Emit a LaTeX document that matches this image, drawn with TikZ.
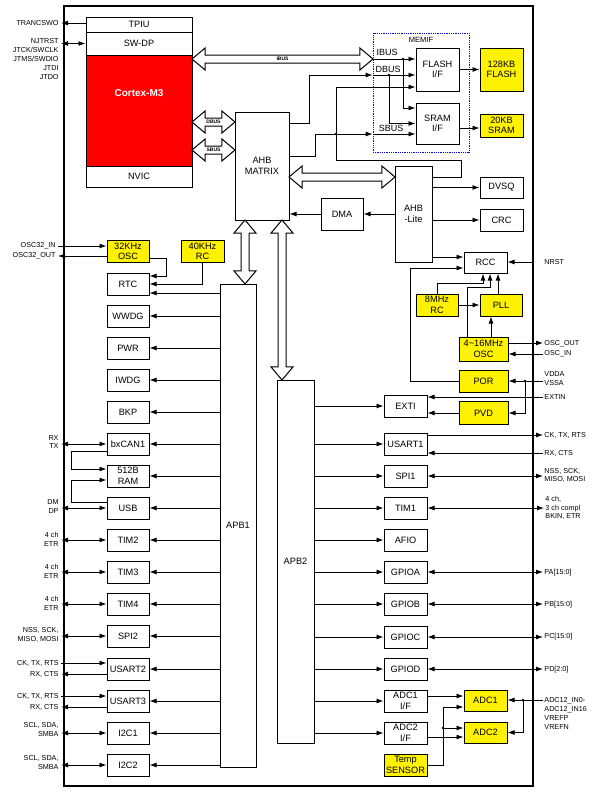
\documentclass[tikz,border=0pt]{standalone}
\usepackage{fontspec}
\setmainfont{Liberation Sans}
\usetikzlibrary{shapes,arrows.meta,positioning,calc}

\begin{document}
\begin{tikzpicture}[x=1pt, y=-1pt, line width=0.9pt, >={Latex[length=7pt,width=5pt]}]
    \tikzstyle{block} = [rectangle, draw, line width=1pt, minimum width=42pt, minimum height=22pt, inner sep=0pt, align=center, font=\fontsize{9.2}{10.5}\selectfont]
    \tikzstyle{hot} = [block, fill=yellow]
    \tikzstyle{pinl} = [anchor=east, align=right, inner xsep=2pt, inner ysep=0pt, font=\fontsize{7.2}{8.8}\selectfont]
    \tikzstyle{pinr} = [anchor=west, align=left, inner xsep=1pt, inner ysep=0pt, font=\fontsize{7.2}{8.8}\selectfont]
    \tikzstyle{link} = [->]
    \tikzstyle{bus} = [double arrow, draw, fill=white, line width=1pt, inner xsep=0pt, inner ysep=3.5pt, double arrow head extend=7pt, double arrow tip angle=80, double arrow head indent=0pt]
    \tikzstyle{buslbl} = [inner sep=0pt, font=\fontsize{5}{5}\selectfont\bfseries]

    \fill[white] (0,0) rectangle (599,795);
    \useasboundingbox (0,0) rectangle (599,795);

    % Chip outline
    \node[draw, line width=1.6pt, minimum width=469pt, minimum height=780pt, inner sep=0pt] (chip) at (298.5,396) {};

    % Cortex-M3 core
    \node[block, minimum width=106pt, minimum height=15pt] (tpiu) at (139,24.5) {TPIU};
    \node[block, minimum width=106pt, minimum height=23pt] (swdp) at (139,43.5) {SW-DP};
    \node[block, fill=red, minimum width=106pt, minimum height=111pt] (cortex) at (139,110.5) {};
    \node[text=white, font=\fontsize{10}{12}\selectfont\bfseries] (cortexlbl) at (139,93) {Cortex-M3};
    \node[block, minimum width=106pt, minimum height=21pt] (nvic) at (139,176.5) {NVIC};

    \node[pinl] (swo) at (61,23) {TRANCSWO};
    \node[pinl, anchor=north east] (jtag) at (61,38.5) {NJTRST\\JTCK/SWCLK\\JTMS/SWDIO\\JTDI\\JTDO};
    \draw[link] ([yshift=1.5pt]tpiu.west) -- ([yshift=1.5pt]tpiu.west -| swo.east);
    \draw[link, <->] (swdp.west) -- (swdp.west -| swo.east);

    % Busses from the core
    \node[bus, minimum height=181pt] (ibus) at (282.5,59) {};
    \node[buslbl] at (ibus) {IBUS};
    \node[bus, minimum height=43pt] (dbus) at (213.5,122) {};
    \node[buslbl] at (dbus) {DBUS};
    \node[bus, minimum height=43pt] (sbus) at (213.5,150) {};
    \node[buslbl] at (sbus) {SBUS};

    \node[block, minimum width=54pt, minimum height=108pt] (ahbm) at (262,166) {AHB\\MATRIX};

    % Memory interface
    \node[draw=blue, densely dotted, line width=0.8pt, minimum width=96pt, minimum height=119pt, inner sep=0pt] (memif) at (421,92.5) {};
    \node[font=\fontsize{7.5}{8}\selectfont] (memiflbl) at (421,40) {MEMIF};
    \node[block, minimum width=43pt, minimum height=43pt] (flashif) at (437.5,69.5) {FLASH\\I/F};
    \node[block, minimum width=43pt, minimum height=41pt] (sramif) at (437.5,123.5) {SRAM\\I/F};
    \node[hot, minimum width=43pt, minimum height=43pt] (flash) at (501.5,69.5) {128KB\\FLASH};
    \node[hot, minimum width=43pt, minimum height=23pt] (sram) at (501.5,125.5) {20KB\\SRAM};
    \node[font=\fontsize{9}{10}\selectfont] (ibuslbl) at (387,52) {IBUS};
    \node[font=\fontsize{9}{10}\selectfont] (dbuslbl) at (388,69) {DBUS};
    \node[font=\fontsize{9}{10}\selectfont] (sbuslbl) at (391,128) {SBUS};

    \coordinate (ij) at (403,59);
    \coordinate (dj) at (389,75);
    \coordinate (sj) at (336,134);
    \coordinate (dbusin) at (memif.west |- dj);
    \coordinate (sbusin) at (memif.west |- sj);

    \draw[link] (ibus.east) -- (ibus.east -| flashif.west);
    \draw[link] (ij) |- ([yshift=15.5pt]sramif.west);
    \draw[link] ([yshift=43pt]ahbm.east) -- ++(20,0) |- (dbusin);
    \draw[link] (dbusin) -- (flashif.west |- dj);
    \draw[link] (dj) |- (sramif.west);
    \draw[link] ([yshift=10pt]ahbm.east) -- ++(26,0) |- (sbusin);
    \draw[link] (sbusin) -- (sramif.west |- sj);
    \draw[link] (sj) |- ([yshift=-17.5pt]flashif.west);
    \fill (ij) circle (1.4pt);
    \fill (dj) circle (1.4pt);
    \fill (sj) circle (1.4pt);

    \draw[link] (flashif) -- (flash);
    \draw[link] ([yshift=-2.5pt]sram.west -| sramif.east) -- ([yshift=-2.5pt]sram.west);

    % AHB-Lite side
    \node[block, minimum width=37pt, minimum height=96pt] (ahbl) at (413.5,214) {AHB\\-Lite};
    \node[bus, minimum height=106pt] (ahbbus) at (342,177) {};
    \node[block, minimum width=42pt, minimum height=32pt] (dma) at (342,214) {DMA};
    \node[block, minimum width=43pt, minimum height=21pt] (dvsq) at (501.5,187.5) {DVSQ};
    \node[block, minimum width=43pt, minimum height=22pt] (crc) at (501.5,220) {CRC};

    \draw (sj) -- ++(0,26) -| ([xshift=29pt,yshift=37pt]ahbl.east) -- ([yshift=37pt]ahbl.east);
    \draw[link] (ahbl) -- (dma);
    \draw[link] (dma) -- (ahbm.east |- dma);
    \draw[link] (ahbl.east |- dvsq) -- (dvsq);
    \draw[link] (ahbl.east |- crc) -- (crc);

    % Clocks and reset
    \node[block, minimum width=43pt, minimum height=21pt] (rcc) at (485.5,262.5) {RCC};
    \node[hot, minimum width=42pt, minimum height=22pt] (rc8) at (437,305) {8MHz\\RC};
    \node[hot, minimum width=42pt, minimum height=22pt] (pll) at (501,305) {PLL};
    \node[hot, minimum width=49pt, minimum height=24pt] (osc) at (483.5,349) {4\textasciitilde16MHz\\OSC};
    \node[hot, minimum width=49pt, minimum height=22pt] (por) at (483.5,381) {POR};
    \node[hot, minimum width=49pt, minimum height=23pt] (pvd) at (483.5,413) {PVD};
    \node[block, minimum width=43pt, minimum height=22pt] (exti) at (405.5,406) {EXTI};

    \node[pinr] (nrst) at (543,262) {NRST};
    \node[pinr] (oscout) at (543,344) {OSC\_OUT};
    \node[pinr] (oscin) at (543,354) {OSC\_IN};
    \node[pinr] (vdda) at (543,378.5) {VDDA\\VSSA};
    \node[pinr] (extin) at (543,397) {EXTIN};
    \coordinate (vj) at (525,381);

    \draw[link] ([yshift=5.5pt]rcc.west -| ahbl.east) -- ([yshift=5.5pt]rcc.west);
    \draw[link] (nrst.west -| chip.east) -- (nrst.west -| rcc.east);
    \draw[link] (rc8.north) -- ++(0,-10) -| ([xshift=-2.5pt]rcc.south);
    \draw[link] ([xshift=-16.5pt]osc.north) -- ++(0,-49) -| ([xshift=4.5pt]rcc.south);
    \draw[link] ([xshift=-3pt]pll.north) -- ([xshift=-3pt]pll.north |- rcc.south);
    \draw[link] (rc8) -- (pll);
    \draw[link] ([xshift=7.5pt]osc.north) -- ([xshift=7.5pt]osc.north |- pll.south);
    \draw[link] ([yshift=6pt]osc.east) -- ([yshift=6pt]osc.east -| oscout.west);
    \draw[link] (oscin.west) -- (oscin.west -| osc.east);
    \draw[link] (por.west) -- ++(-48,0) |- ([yshift=-5.5pt]rcc.west);
    \draw[link] (por.east -| vdda.west) -- (por.east);
    \draw[link] (vj) |- (pvd.east);
    \fill (vj) circle (1.4pt);
    \draw[link] (extin.west) -- (extin.west -| exti.east);
    \draw[link] (pvd.west) -- (pvd.west -| exti.east);

    % Peripheral busses
    \node[block, minimum width=36pt, minimum height=483pt] (apb1) at (238,525.5) {APB1};
    \node[block, minimum width=37pt, minimum height=363pt] (apb2) at (295.5,561.5) {APB2};
    \node[bus, rotate=90, minimum height=64pt] (apb1bus) at (245,252) {};
    \node[bus, rotate=90, minimum height=160pt] (apb2bus) at (282,300) {};
    \draw[link] (apb2.east |- exti) -- (exti);

    % APB1 peripherals
    \node[hot] (osc32) at (128,251.5) {32KHz\\OSC};
    \node[hot, minimum width=43pt] (rc40) at (202.5,251.5) {40KHz\\RC};
    \node[block] (rtc) at (128,284) {RTC};
    \node[block] (wwdg) at (128,316) {WWDG};
    \node[block] (pwr) at (128,348) {PWR};
    \node[block] (iwdg) at (128,380) {IWDG};
    \node[block] (bkp) at (128,412) {BKP};
    \node[block] (bxcan) at (128,444) {bxCAN1};
    \node[block] (ram) at (128,476) {512B\\RAM};
    \node[block] (usb) at (128,508) {USB};
    \node[block] (tim2) at (128,540) {TIM2};
    \node[block] (tim3) at (128,572) {TIM3};
    \node[block] (tim4) at (128,604) {TIM4};
    \node[block] (spi2) at (128,636) {SPI2};
    \node[block] (usart2) at (128,669) {USART2};
    \node[block] (usart3) at (128,701) {USART3};
    \node[block] (i2c1) at (128,733) {I2C1};
    \node[block] (i2c2) at (128,765) {I2C2};

    \draw[link] ([yshift=-9pt]rtc.east -| apb1.west) -- ([yshift=-9pt]rtc.east);
    \draw[link] (apb1.west |- wwdg) -- (wwdg);
    \draw[link] (apb1.west |- pwr) -- (pwr);
    \draw[link] (apb1.west |- iwdg) -- (iwdg);
    \draw[link] (apb1.west |- bkp) -- (bkp);
    \draw[link] (apb1.west |- bxcan) -- (bxcan);
    \draw[link] (apb1.west |- ram) -- (ram);
    \draw[link] (apb1.west |- usb) -- (usb);
    \draw[link] (apb1.west |- tim2) -- (tim2);
    \draw[link] (apb1.west |- tim3) -- (tim3);
    \draw[link] (apb1.west |- tim4) -- (tim4);
    \draw[link] (apb1.west |- spi2) -- (spi2);
    \draw[link] (apb1.west |- usart2) -- (usart2);
    \draw[link] (apb1.west |- usart3) -- (usart3);
    \draw[link] (apb1.west |- i2c1) -- (i2c1);
    \draw[link] (apb1.west |- i2c2) -- (i2c2);

    \draw[link] ([yshift=-6.5pt]osc32.east) -- ++(17,0) |- ([yshift=8pt]rtc.east);
    \draw[link] (rc40.south) |- (rtc.east);
    \draw[link] ([yshift=-7pt]bxcan.west) -- ++(-35,0) |- ([yshift=7pt]ram.west);
    \draw[link] ([yshift=6pt]usb.west) -- ++(-35,0) |- ([yshift=-4pt]ram.west);

    % APB1 pins
    \node[pinl] (osc32in) at (58,246) {OSC32\_IN};
    \node[pinl] (osc32out) at (58,256) {OSC32\_OUT};
    \node[pinl] (canpin) at (61,442) {RX\\TX};
    \node[pinl] (usbpin) at (61,506.5) {DM\\DP};
    \node[pinl] (t2pin) at (61,539.5) {4 ch\\ETR};
    \node[pinl] (t3pin) at (61,571.5) {4 ch\\ETR};
    \node[pinl] (t4pin) at (61,603.5) {4 ch\\ETR};
    \node[pinl] (spi2pin) at (61,635) {NSS, SCK,\\MISO, MOSI};
    \node[pinl] (ck2) at (61,663) {CK, TX, RTS};
    \node[pinl] (rx2) at (61,674) {RX, CTS};
    \node[pinl] (ck3) at (61,696) {CK, TX, RTS};
    \node[pinl] (rx3) at (61,707) {RX, CTS};
    \node[pinl] (i2c1pin) at (61,729.5) {SCL, SDA,\\SMBA};
    \node[pinl] (i2c2pin) at (61,762.5) {SCL, SDA,\\SMBA};

    \draw[link] (osc32in.east) -- (osc32in.east -| osc32.west);
    \draw[link] ([yshift=-4.5pt]osc32.west) -- ([yshift=-4.5pt]osc32.west -| osc32out.east);
    \draw[link, <->] (bxcan.west) -- (bxcan.west -| canpin.east);
    \draw[link, <->] (usb.west) -- (usb.west -| usbpin.east);
    \draw[link, <->] (tim2.west) -- (tim2.west -| t2pin.east);
    \draw[link, <->] (tim3.west) -- (tim3.west -| t3pin.east);
    \draw[link, <->] (tim4.west) -- (tim4.west -| t4pin.east);
    \draw[link, <->] (spi2.west) -- (spi2.west -| spi2pin.east);
    \draw[link] (ck2.east) -- (ck2.east -| usart2.west);
    \draw[link] (rx2.east -| usart2.west) -- (rx2.east);
    \draw[link] (ck3.east) -- (ck3.east -| usart3.west);
    \draw[link] (rx3.east -| usart3.west) -- (rx3.east);
    \draw[link, <->] (i2c1.west) -- (i2c1.west -| i2c1pin.east);
    \draw[link, <->] (i2c2.west) -- (i2c2.west -| i2c2pin.east);

    % APB2 peripherals
    \node[block, minimum width=43pt] (usart1) at (405.5,444) {USART1};
    \node[block, minimum width=43pt] (spi1) at (405.5,476) {SPI1};
    \node[block, minimum width=43pt] (tim1) at (405.5,508) {TIM1};
    \node[block, minimum width=43pt] (afio) at (405.5,540) {AFIO};
    \node[block, minimum width=43pt] (gpioa) at (405.5,572) {GPIOA};
    \node[block, minimum width=43pt] (gpiob) at (405.5,604) {GPIOB};
    \node[block, minimum width=43pt] (gpioc) at (405.5,637) {GPIOC};
    \node[block, minimum width=43pt] (gpiod) at (405.5,669) {GPIOD};
    \node[block, minimum width=43pt] (adc1if) at (405.5,701) {ADC1\\I/F};
    \node[block, minimum width=43pt] (adc2if) at (405.5,733) {ADC2\\I/F};
    \node[hot, minimum width=43pt] (temp) at (405.5,765) {Temp\\SENSOR};
    \node[hot, minimum width=43pt, minimum height=21pt] (adc1) at (485.5,700.5) {ADC1};
    \node[hot, minimum width=43pt, minimum height=21pt] (adc2) at (485.5,732.5) {ADC2};

    \draw[link] (apb2.east |- usart1) -- (usart1);
    \draw[link] (apb2.east |- spi1) -- (spi1);
    \draw[link] (apb2.east |- tim1) -- (tim1);
    \draw[link] (apb2.east |- afio) -- (afio);
    \draw[link] (apb2.east |- gpioa) -- (gpioa);
    \draw[link] (apb2.east |- gpiob) -- (gpiob);
    \draw[link] (apb2.east |- gpioc) -- (gpioc);
    \draw[link] (apb2.east |- gpiod) -- (gpiod);
    \draw[link] (apb2.east |- adc1if) -- (adc1if);
    \draw[link] (apb2.east |- adc2if) -- (adc2if);

    % APB2 pins
    \node[pinr] (ck1) at (543,435) {CK, TX, RTS};
    \node[pinr] (rx1) at (543,453) {RX, CTS};
    \node[pinr] (spi1pin) at (543,475.5) {NSS, SCK,\\MISO, MOSI};
    \node[pinr] (tim1pin) at (544,508) {4 ch,\\3 ch compl\\BKIN, ETR};
    \node[pinr] (pa) at (543,573) {PA[15:0]};
    \node[pinr] (pb) at (543,604.5) {PB[15:0]};
    \node[pinr] (pc) at (543,637) {PC[15:0]};
    \node[pinr] (pd) at (543,669.5) {PD[2:0]};
    \node[pinr] (adcpin) at (543,713.5) {ADC12\_IN0-\\ADC12\_IN16\\VREFP\\VREFN};

    \draw[link] ([yshift=9pt]usart1.east) -- ([yshift=9pt]usart1.east -| ck1.west);
    \draw[link] (rx1.west) -- (rx1.west -| usart1.east);
    \draw[link, <->] (spi1.east) -- (spi1.east -| spi1pin.west);
    \draw[link, <->] (tim1.east) -- (tim1.east -| tim1pin.west);
    \draw[link, <->] (gpioa.east) -- (gpioa.east -| pa.west);
    \draw[link, <->] (gpiob.east) -- (gpiob.east -| pb.west);
    \draw[link, <->] (gpioc.east) -- (gpioc.east -| pc.west);
    \draw[link, <->] (gpiod.east) -- (gpiod.east -| pd.west);

    % ADC links
    \coordinate (tj) at (443,728);
    \coordinate (aj) at (523,700);
    \draw[link] ([yshift=5pt]adc1if.east) -- ([yshift=5pt]adc1if.east -| adc1.west);
    \draw[link] ([yshift=-4pt]adc2if.east) -- ([yshift=-4pt]adc2if.east -| adc2.west);
    \draw[link] (temp.east) -- ++(16,0) |- ([yshift=-6.5pt]adc1.west);
    \draw[link] (tj) -- (tj -| adc2.west);
    \fill (tj) circle (1.4pt);
    \draw[link] ([yshift=13.5pt]adcpin.west) -- ([yshift=13.5pt]adcpin.west -| adc1.east);
    \draw[link] (aj) |- (adc2.east);
    \fill (aj) circle (1.4pt);
\end{tikzpicture}
\end{document}
